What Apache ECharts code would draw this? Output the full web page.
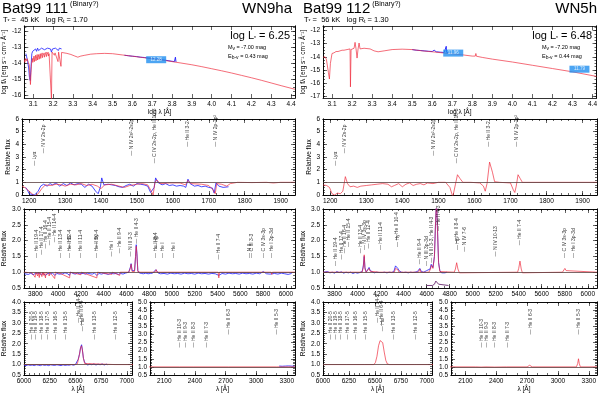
<!DOCTYPE html>
<html>
<head>
<meta charset="utf-8">
<script src="https://cdn.jsdelivr.net/npm/echarts@6/dist/echarts.min.js"></script>
<style>html,body{margin:0;background:#fff}#chart{width:600px;height:394px}</style>
</head>
<body>
<div id="chart"></div>
<script>
const FONT = 'Liberation Sans'
const RED = '#ee2638'
const BLUE = '#1c1cff'

// ---- tick labels ----
const sedTicksX = [3.1, 3.2, 3.3, 3.4, 3.5, 3.6, 3.7, 3.8, 3.9, 4.0, 4.1, 4.2, 4.3, 4.4]
const sedTicksYL = [-16, -15, -14, -13, -12]
const sedTicksYR = [-17, -16, -15, -14, -13, -12]
const uvTicksX = [1200, 1300, 1400, 1500, 1600, 1700, 1800, 1900]
const uvTicksY = [0, 1, 2, 3, 4, 5, 6]
const optTicksX = [3800, 4000, 4200, 4400, 4600, 4800, 5000, 5200, 5400, 5600, 5800, 6000]
const optTicksY = [0.5, 1.0, 1.5, 2.0, 2.5, 3.0]
const irTicksXa = [6000, 6250, 6500, 6750, 7000]
const irTicksYa = [0.5, 1.0, 1.5, 2.0, 2.5, 3.0, 3.5, 4.0]
const irTicksXb = [2100, 2400, 2700, 3000, 3300]
const irTicksYb = [0.5, 1.0, 1.5, 2.0, 2.5, 3.0, 3.5, 4.0, 4.5, 5.0]

// ---- SED (log lambda, log f) ----
const sedModelL = [[3.055,-13.78],[3.058,-13.95],[3.06,-13.7],[3.065,-13.85],[3.07,-13.72],[3.075,-13.95],[3.08,-14.1],[3.083,-14.8],[3.086,-15.35],[3.089,-14.6],[3.092,-13.95],[3.096,-13.7],[3.098,-13.95],[3.1,-13.85],[3.104,-13.55],[3.106,-13.9],[3.108,-13.75],[3.112,-13.5],[3.114,-13.85],[3.116,-13.7],[3.12,-13.45],[3.122,-13.8],[3.124,-13.65],[3.128,-13.45],[3.13,-13.75],[3.132,-13.6],[3.136,-13.4],[3.138,-13.7],[3.14,-13.55],[3.145,-13.35],[3.147,-13.65],[3.15,-13.5],[3.155,-13.35],[3.157,-13.62],[3.16,-13.48],[3.165,-13.3],[3.167,-13.58],[3.17,-13.45],[3.175,-13.3],[3.177,-13.55],[3.18,-13.4],[3.185,-13.28],[3.19,-13.35],[3.192,-16.3],[3.195,-13.3],[3.2,-13.38],[3.205,-13.28],[3.207,-13.5],[3.21,-13.35],[3.215,-13.25],[3.22,-13.3],[3.225,-13.9],[3.228,-13.3],[3.235,-13.32],[3.24,-14.2],[3.243,-13.32],[3.25,-13.3],[3.27,-13.38],[3.29,-13.45],[3.31,-13.55],[3.325,-13.62],[3.34,-13.55],[3.36,-13.5],[3.39,-13.43],[3.42,-13.4],[3.46,-13.38],[3.5,-13.4],[3.55,-13.48],[3.6,-13.56],[3.65,-13.64],[3.7,-13.72],[3.75,-13.8],[3.8,-13.9],[3.85,-14.0],[3.9,-14.1],[3.95,-14.22],[4.0,-14.35],[4.05,-14.48],[4.1,-14.62],[4.15,-14.77],[4.2,-14.92],[4.25,-15.08],[4.3,-15.25],[4.35,-15.42],[4.42,-15.65]]
const sedUvObsL = [[3.063,-13.4],[3.067,-13.6],[3.072,-13.9],[3.077,-14.3],[3.081,-14.9],[3.085,-15.1],[3.089,-14.2],[3.093,-13.4],[3.097,-13.25],[3.102,-13.2],[3.107,-13.3],[3.112,-13.1],[3.117,-13.25],[3.122,-13.05],[3.127,-13.2],[3.132,-13.1],[3.137,-13.2],[3.142,-13.05],[3.147,-13.15],[3.152,-13.0],[3.157,-13.15],[3.162,-13.1],[3.167,-13.2],[3.172,-13.05],[3.177,-13.15],[3.182,-13.0],[3.187,-13.1],[3.192,-13.3],[3.197,-13.1],[3.202,-13.0],[3.207,-13.15],[3.212,-13.05],[3.217,-13.1],[3.222,-13.0],[3.227,-13.2],[3.232,-13.05],[3.237,-13.15],[3.243,-13.1]]
const sedOptObsL = [[3.56,-13.5],[3.58,-13.53],[3.6,-13.56],[3.62,-13.58],[3.64,-13.62],[3.66,-13.64],[3.68,-13.68],[3.7,-13.7],[3.72,-13.73],[3.74,-13.76],[3.76,-13.8],[3.78,-13.84],[3.8,-13.88],[3.812,-13.9],[3.817,-13.62],[3.82,-13.92]]
const sedPhotL = [[3.72,-13.78,'12.28']]

const sedModelR = [[3.055,-14.05],[3.065,-14.0],[3.072,-14.2],[3.078,-14.1],[3.082,-15.2],[3.087,-15.7],[3.092,-14.5],[3.1,-13.75],[3.105,-13.9],[3.11,-13.7],[3.115,-13.85],[3.12,-13.6],[3.125,-13.75],[3.13,-13.6],[3.135,-13.7],[3.14,-13.55],[3.15,-13.5],[3.16,-13.5],[3.175,-13.45],[3.19,-13.4],[3.192,-16.3],[3.195,-13.45],[3.21,-13.35],[3.215,-12.9],[3.22,-13.4],[3.225,-14.1],[3.23,-13.4],[3.235,-12.95],[3.24,-13.4],[3.26,-13.35],[3.29,-13.4],[3.31,-13.55],[3.33,-13.62],[3.36,-13.55],[3.4,-13.45],[3.45,-13.42],[3.5,-13.45],[3.55,-13.55],[3.6,-13.62],[3.65,-13.7],[3.7,-13.78],[3.75,-13.85],[3.8,-13.95],[3.815,-13.95],[3.818,-13.75],[3.821,-13.96],[3.85,-14.05],[3.9,-14.18],[4.0,-14.4],[4.1,-14.65],[4.2,-14.9],[4.3,-15.15],[4.42,-15.5]]
const sedOptObsR = [[3.5,-13.45],[3.52,-13.5],[3.54,-13.52],[3.56,-13.55],[3.58,-13.58],[3.6,-13.6],[3.61,-13.5],[3.62,-13.62],[3.64,-13.65],[3.66,-13.67],[3.668,-13.68],[3.67,-13.2],[3.672,-13.66],[3.68,-13.7]]
const sedPhotR = [[3.705,-13.72,'11.96'],[4.335,-14.95,'11.79']]

// ---- UV (lambda, relative flux) ----
const uvModelL = [[1180,0.7],[1190,0.55],[1200,0.3],[1210,0.05],[1216,-0.1],[1225,0.1],[1235,0.5],[1245,0.8],[1260,0.75],[1275,0.85],[1290,0.8],[1300,0.7],[1315,0.85],[1330,0.8],[1345,0.9],[1360,0.75],[1375,0.85],[1390,0.7],[1400,0.5],[1410,0.8],[1430,0.85],[1450,0.7],[1465,0.6],[1480,0.75],[1500,0.85],[1515,0.9],[1530,0.8],[1540,0.3],[1545,0.0],[1550,1.0],[1555,1.2],[1565,0.9],[1590,0.95],[1620,0.95],[1635,0.8],[1642,1.15],[1650,0.9],[1680,0.85],[1700,0.75],[1712,0.4],[1718,0.1],[1722,0.9],[1735,0.85],[1750,0.7],[1760,0.9],[1780,1.0],[1820,0.98],[1860,1.0],[1880,0.95],[1900,1.0],[1940,1.0]]
const uvObsL = [[1190,0.6],[1195,0.4],[1200,0.1],[1205,0.0],[1215,0.0],[1225,0.3],[1232,0.7],[1240,0.85],[1250,0.7],[1258,0.9],[1265,0.8],[1275,0.95],[1285,0.7],[1295,0.9],[1305,0.75],[1315,0.95],[1325,0.8],[1335,0.9],[1345,0.85],[1355,0.6],[1365,0.85],[1375,0.7],[1385,0.3],[1392,0.1],[1398,0.6],[1402,1.35],[1408,0.8],[1420,0.85],[1430,0.8],[1440,0.75],[1450,0.65],[1460,0.6],[1470,0.75],[1480,0.85],[1490,0.7],[1500,0.9],[1510,0.85],[1520,0.8],[1530,0.7],[1538,0.2],[1542,0.05],[1548,0.6],[1552,1.35],[1558,1.0],[1570,0.8],[1580,0.9],[1590,0.75],[1600,0.8],[1610,0.7],[1620,0.75],[1630,0.7],[1636,0.6],[1642,1.25],[1648,0.9],[1660,0.7],[1670,0.75],[1680,0.65],[1690,0.7],[1700,0.6],[1710,0.55],[1715,0.15],[1720,0.95],[1728,0.7],[1740,0.6],[1755,0.65]]
const uvModelR = [[1180,0.8],[1190,0.75],[1198,0.6],[1205,0.1],[1212,0.0],[1220,0.15],[1228,0.1],[1235,0.3],[1242,1.45],[1248,0.9],[1255,0.65],[1265,0.7],[1275,0.6],[1285,0.7],[1300,0.75],[1315,0.8],[1330,0.85],[1345,0.9],[1360,0.85],[1370,0.65],[1378,0.75],[1390,0.9],[1400,0.65],[1410,0.85],[1420,0.95],[1430,0.75],[1440,0.85],[1450,0.9],[1460,0.8],[1470,0.95],[1485,0.9],[1500,1.0],[1520,1.0],[1532,0.6],[1540,-0.15],[1547,0.8],[1553,1.6],[1560,1.3],[1568,1.0],[1590,1.0],[1615,0.95],[1625,0.7],[1630,0.3],[1635,0.9],[1642,2.6],[1650,1.8],[1656,1.05],[1670,1.0],[1700,0.95],[1708,0.4],[1712,0.2],[1716,0.7],[1721,1.6],[1727,1.3],[1733,1.0],[1760,1.0],[1940,1.0]]
const uvIds = [['Lyα',1216,2.3],['N V 2s-2p',1240,3.3],['N IV 2s²-2s2p',1486,3.1],['C IV 2s-2p, He II 10-3',1550,2.5],['He II 3-2',1640,3.8],['N IV 2p-2p²',1718,3.8]]

// ---- optical ----
const optModelL = [[3700,1.0],[3770,0.98],[3798,0.84],[3805,1.0],[3820,0.88],[3825,1.0],[3835,0.83],[3840,1.0],[3858,0.86],[3862,1.0],[3870,0.9],[3875,1.0],[3889,0.82],[3895,1.0],[3923,0.88],[3927,1.0],[3970,0.8],[3976,1.0],[4026,0.95],[4030,1.0],[4101,0.82],[4107,1.0],[4200,0.92],[4205,1.0],[4340,0.82],[4346,1.0],[4471,0.93],[4476,1.0],[4541,0.9],[4545,1.0],[4620,1.0],[4634,1.12],[4641,1.25],[4650,1.02],[4670,1.02],[4680,1.5],[4686,1.82],[4692,1.55],[4700,1.02],[4720,1.0],[4850,1.0],[4861,1.08],[4870,1.0],[5000,1.0],[5405,1.0],[5411,0.82],[5417,1.0],[5795,1.0],[5801,1.06],[5810,1.0],[5870,1.0],[5876,0.93],[5882,1.0],[6080,1.0]]
const optObsL = [[3705,0.95],[3720,0.98],[3740,0.93],[3760,0.97],[3780,0.92],[3800,0.96],[3815,0.9],[3830,0.97],[3850,0.93],[3870,0.96],[3890,0.9],[3910,0.97],[3930,0.94],[3950,0.98],[3970,0.9],[3990,0.96],[4010,0.94],[4026,0.97],[4040,0.95],[4060,0.98],[4080,0.96],[4100,0.9],[4110,1.0],[4130,0.96],[4150,0.94],[4170,0.97],[4190,0.95],[4200,0.92],[4220,0.96],[4240,0.94],[4260,0.97],[4280,0.95],[4300,0.94],[4320,0.97],[4340,0.9],[4360,0.96],[4380,0.94],[4400,0.96],[4420,0.95],[4440,0.93],[4460,0.96],[4471,0.92],[4490,0.95],[4510,0.96],[4530,0.93],[4550,0.96],[4570,0.94],[4590,0.97],[4605,0.96],[4620,1.0],[4634,1.15],[4641,1.27],[4650,1.05],[4662,1.0],[4672,1.05],[4680,1.5],[4686,1.87],[4692,1.6],[4700,1.05],[4712,0.98],[4730,0.96],[4750,0.95],[4770,0.97],[4790,0.95],[4810,0.96],[4830,0.97],[4845,1.0],[4858,1.08],[4866,1.03],[4880,0.97],[4900,0.95],[4930,0.96],[4960,0.94],[4990,0.97],[5020,0.95],[5050,0.96],[5080,0.94],[5110,0.97],[5140,0.95],[5170,0.96],[5200,0.94],[5230,0.97],[5260,0.95],[5290,0.96],[5320,0.94],[5350,0.96],[5380,0.95],[5411,0.9],[5440,0.96],[5470,0.94],[5500,0.97],[5530,0.95],[5560,0.96],[5590,0.94],[5620,0.97],[5650,0.95],[5680,0.96],[5710,0.94],[5740,0.97],[5770,0.95],[5801,1.02],[5830,0.95],[5860,0.94],[5876,0.9],[5900,0.96],[5930,0.94],[5960,0.97],[5990,0.95],[6020,0.93],[6050,0.96]]
const optModelR = [[3700,1.0],[4040,1.0],[4050,1.15],[4058,1.55],[4065,1.1],[4075,1.0],[4090,1.03],[4100,1.12],[4110,1.03],[4190,1.0],[4200,1.05],[4210,1.0],[4320,1.0],[4330,1.12],[4340,1.18],[4350,1.08],[4360,1.0],[4530,1.0],[4541,1.1],[4550,1.0],[4620,1.0],[4634,1.1],[4641,1.22],[4655,1.12],[4668,1.5],[4678,2.6],[4686,3.3],[4694,2.4],[4704,1.3],[4715,1.02],[4730,1.0],[4840,1.0],[4850,1.1],[4861,1.3],[4872,1.1],[4885,0.98],[4900,1.0],[5390,1.0],[5400,1.12],[5411,1.35],[5422,1.1],[5432,0.98],[5445,1.0],[5780,1.0],[5790,1.05],[5801,1.12],[5812,1.05],[5825,1.0],[6080,1.0]]
const optObsR = [[3705,1.0],[3720,0.97],[3740,1.02],[3760,0.98],[3780,1.0],[3800,0.97],[3820,1.02],[3840,0.99],[3860,1.01],[3880,0.97],[3900,1.0],[3920,0.98],[3940,1.0],[3960,0.96],[3980,0.99],[4000,0.97],[4020,0.99],[4040,1.02],[4050,1.2],[4058,1.5],[4064,1.15],[4075,1.0],[4090,1.05],[4100,1.15],[4110,1.05],[4125,1.0],[4145,0.98],[4165,1.0],[4185,0.99],[4200,1.05],[4215,0.99],[4235,1.0],[4255,0.98],[4275,1.0],[4295,0.99],[4315,1.02],[4330,1.2],[4340,1.15],[4350,1.12],[4360,1.05],[4380,1.0],[4400,0.99],[4420,1.0],[4440,0.98],[4460,1.0],[4480,0.99],[4500,1.0],[4520,1.02],[4541,1.12],[4555,1.02],[4575,1.0],[4600,1.05],[4615,1.0],[4630,1.1],[4640,1.25],[4655,1.15],[4668,1.5],[4678,2.6],[4686,3.3],[4694,2.4],[4704,1.3],[4715,1.05],[4730,0.98],[4745,1.0],[4760,0.98],[4775,1.0]]
const optInsetR = [[4600,0.58],[4650,0.58],[4668,0.62],[4680,0.72],[4686,0.76],[4692,0.72],[4704,0.62],[4720,0.58],[4790,0.58]]
const optIdsL = [['He II 19-4',3813,1.45],['He II 17-4',3858,1.55],['He II 16-4',3887,1.75],['He II 15-4',3923,1.85],['He II 14-4',3968,1.95],['He II 13-4',4026,1.45],['He II 12-4',4100,1.45],['Hδ',4101,1.75],['He II 11-4',4200,1.45],['He II 10-4',4339,1.45],['Hγ',4340,1.8],['He I',4471,1.5],['He II 9-4',4541,1.6],['N III 3-3',4640,1.5],['He II 4-3',4686,1.9],['He II 8-4',4859,1.45],['Hβ',4861,1.75],['He I',4922,1.45],['He I',5016,1.45],['He II 7-4',5411,1.4],['N II',5680,1.45],['C III 3-3',5696,1.45],['C IV 3s-3p',5801,1.45],['He I 3p-3d',5876,1.45]]
const optIdsR = [['He II 19-4',3813,1.2],['He II 17-4',3858,1.4],['He II 16-4',3887,1.6],['He II 15-4',3923,1.8],['He II 13-4',4026,1.6],['N IV 3s-3p',4058,1.7],['He II 12-4',4100,1.75],['He II 11-4',4200,1.7],['He II 10-4',4339,2.0],['Hγ',4345,1.8],['He II 9-4',4541,1.25],['N III 3p-3d',4604,1.2],['N III 3-3, He II 4-3',4640,1.3],['He II 4-3',4700,2.3],['He II 8-4',4861,1.9],['Hβ',4866,1.7],['N IV 7-6',4930,1.65],['N IV 10-13',5200,1.5],['He II 7-4',5411,1.85],['C IV 3s-3p',5801,1.45],['He I 3p-3d',5876,1.45]]

// ---- red / near-IR ----
const irModelLa = [[6000,1.0],[6500,1.0],[6520,1.05],[6540,1.5],[6550,1.8],[6560,1.9],[6568,1.7],[6578,1.3],[6590,1.05],[6600,1.0],[6885,1.0],[6891,0.96],[6897,1.0],[7060,1.0]]
const irObsLa = [[6000,0.98],[6020,0.95],[6040,0.99],[6060,0.96],[6080,0.98],[6100,0.95],[6120,0.99],[6140,0.97],[6160,0.95],[6180,0.99],[6200,0.96],[6220,0.98],[6240,0.95],[6260,0.99],[6280,0.97],[6300,0.96],[6320,0.99],[6340,0.97],[6360,0.95],[6380,0.99],[6400,0.96],[6420,0.98],[6440,0.97],[6460,1.0],[6480,0.97],[6500,1.0],[6515,1.05],[6527,1.25],[6540,1.5],[6550,1.8],[6560,1.95],[6568,1.7],[6578,1.3],[6590,1.1],[6600,1.02],[6620,0.98],[6640,1.02],[6660,0.99],[6680,1.03],[6700,0.98],[6720,1.02],[6740,0.99],[6760,1.03],[6780,0.98],[6800,1.02],[6810,0.99]]
const irModelLb = [[1950,1.0],[2250,1.0],[2253,0.98],[2256,1.0],[2303,1.0],[2306,0.98],[2309,1.0],[2382,1.0],[2385,0.98],[2388,1.0],[2508,1.0],[2511,0.98],[2514,1.0],[2730,1.0],[2733,1.01],[2736,1.0],[3200,1.0],[3203,1.01],[3206,1.0],[3380,1.0]]
const irObsLb = [[3225,1.05],[3240,1.08],[3255,1.04],[3270,1.07],[3285,1.05],[3300,1.09],[3315,1.06],[3330,1.08],[3345,1.05],[3360,1.07],[3375,1.04]]
const irModelRa = [[6000,1.0],[6225,1.0],[6233,1.04],[6241,1.0],[6400,1.0],[6406,1.02],[6412,1.0],[6490,1.0],[6505,1.1],[6520,1.4],[6535,1.9],[6550,2.15],[6562,2.2],[6575,2.05],[6590,1.6],[6605,1.2],[6620,1.03],[6640,1.0],[6675,1.0],[6683,1.04],[6691,1.0],[6880,1.0],[6891,1.05],[6902,1.0],[7060,1.0]]
const irModelRb = [[1950,1.0],[2200,1.0],[2253,0.99],[2300,1.0],[2385,0.99],[2500,1.0],[2700,1.0],[2715,1.05],[2725,1.1],[2735,1.05],[2750,1.0],[3180,1.0],[3192,1.2],[3200,1.5],[3208,1.2],[3218,1.0],[3380,1.0]]
const irIdsA = [['He II 20-5',6074,2.2],['He II 19-5',6118,2.2],['He II 18-5',6170,2.2],['He II 17-5',6233,2.2],['He II 16-5',6311,2.2],['He II 15-5',6406,2.2],['He II 14-5',6527,3.0],['He II 6-4',6565,2.85],['Hα',6575,2.6],['He II 13-5',6683,2.2],['He II 12-5',6891,2.2]]
const irIdsB = [['He II 10-3',2253,2.2],['He II 9-3',2306,2.2],['He II 8-3',2385,2.2],['He II 7-3',2511,2.2],['He II 6-3',2733,3.0],['He II 5-3',3203,3.0]]

// ---- builder ----
const grids = [], xAxes = [], yAxes = [], series = []
const f0 = v => String(v), f1 = v => v.toFixed(1)

function steps(a, b, s) {
    const out = []
    for (let v = Math.ceil(a / s) * s; v <= b + 1e-9; v += s) out.push(+v.toFixed(4))
    return out
}

function axis(g, pos, range, vals, len, showLabel, fmt, name, nameGap) {
    return {
        type: 'value', gridIndex: g, position: pos, min: range[0], max: range[1],
        axisLine: {show: true, onZero: false, lineStyle: {color: '#000', width: 0.8}},
        axisTick: {show: true, inside: true, length: len, customValues: vals, lineStyle: {color: '#000', width: 0.6}},
        axisLabel: {show: showLabel, customValues: vals, formatter: fmt, fontSize: 6.5, fontFamily: FONT, color: '#000', margin: 3},
        splitLine: {show: false},
        name: name || '', nameLocation: 'middle', nameGap: nameGap || 12,
        nameTextStyle: {fontSize: 6.5, fontFamily: FONT, color: '#000'}
    }
}

function panel(box, xr, yr, xt, yt, xf, yf, xStep, yStep, xName, yName, yGap) {
    const g = grids.length
    grids.push({left: box[0], top: box[1], width: box[2] - box[0], height: box[3] - box[1]})
    const p = {x: xAxes.length, y: yAxes.length}
    xAxes.push(axis(g, 'bottom', xr, xt, 4, true, xf, xName, 11))
    xAxes.push(axis(g, 'top', xr, xt, 4, false, xf))
    yAxes.push(axis(g, 'left', yr, yt, 4, true, yf, yName, yGap))
    yAxes.push(axis(g, 'right', yr, yt, 4, false, yf))
    if (xStep) {
        const m = steps(xr[0], xr[1], xStep)
        xAxes.push(axis(g, 'bottom', xr, m, 2, false, xf))
        xAxes.push(axis(g, 'top', xr, m, 2, false, xf))
    }
    if (yStep) {
        const m = steps(yr[0], yr[1], yStep)
        yAxes.push(axis(g, 'left', yr, m, 2, false, yf))
        yAxes.push(axis(g, 'right', yr, m, 2, false, yf))
    }
    return p
}

function line(p, data, color, width, opacity, z, unity) {
    const s = {
        type: 'line', xAxisIndex: p.x, yAxisIndex: p.y, data: data, symbol: 'none', silent: true,
        lineStyle: {color: color, width: width, opacity: opacity}, z: z
    }
    if (unity) {
        s.markLine = {silent: true, symbol: 'none', label: {show: false}, animation: false,
            lineStyle: {color: '#5a4040', width: 0.8, type: 'solid'}, data: [{yAxis: 1}]}
    }
    series.push(s)
}

function ids(p, list) {
    series.push({
        type: 'scatter', xAxisIndex: p.x, yAxisIndex: p.y, symbolSize: 0.1, silent: true, z: 5,
        itemStyle: {color: 'rgba(0,0,0,0)'},
        data: list.map(d => ({name: d[0], value: [d[1], d[2]]})),
        label: {show: true, position: 'inside', rotate: 90, align: 'left', verticalAlign: 'middle',
            formatter: '— {b}', fontSize: 5, fontFamily: FONT, color: '#000'}
    })
}

function phot(p, list) {
    series.push({
        type: 'scatter', xAxisIndex: p.x, yAxisIndex: p.y, symbol: 'rect', symbolSize: [20, 7], silent: true, z: 6,
        itemStyle: {color: '#1f8ff0'},
        data: list.map(d => ({name: d[2], value: [d[0], d[1]]})),
        label: {show: true, position: 'inside', formatter: '{b}', fontSize: 4.5, fontFamily: FONT, color: '#fff'}
    })
}

const sedName = 'log fλ [erg s⁻¹ cm⁻² Å⁻¹]'
const relName = 'Relative flux'
const cols = [
    {l: 22, r: 295, a: 132, b: 150},
    {l: 323, r: 597, a: 432, b: 451}
]

// left star
let c = cols[0]
let p = panel([c.l, 26, c.r, 98], [3.055, 4.42], [-16.2, -11.65], sedTicksX, sedTicksYL, f1, f0, 0, 0.25, 'log λ [Å]', sedName, 12)
line(p, sedUvObsL, BLUE, 0.8, 1, 2)
line(p, sedOptObsL, BLUE, 0.9, 1, 2)
line(p, sedModelL, RED, 0.8, 0.85, 3)
phot(p, sedPhotL)

p = panel([c.l, 119, c.r, 195], [1180, 1940], [0, 6], uvTicksX, uvTicksY, f0, f0, 20, 0.2, '', relName, 10)
line(p, uvObsL, BLUE, 0.8, 1, 2)
line(p, uvModelL, RED, 0.8, 0.85, 3, true)
ids(p, uvIds)

p = panel([c.l, 209, c.r, 288], [3700, 6080], [0.5, 3.0], optTicksX, optTicksY, f0, f1, 50, 0.1, '', relName, 14)
line(p, optObsL, BLUE, 0.8, 1, 2)
line(p, optModelL, RED, 0.8, 0.85, 3, true)
ids(p, optIdsL)

p = panel([c.l, 302, c.a, 378], [6000, 7050], [0.5, 4.0], irTicksXa, irTicksYa, f0, f1, 50, 0.1, 'λ [Å]', relName, 14)
line(p, irObsLa, BLUE, 0.8, 1, 2)
line(p, irModelLa, RED, 0.8, 0.85, 3, true)
ids(p, irIdsA)

p = panel([c.b, 302, c.r, 378], [1960, 3380], [0.5, 5.0], irTicksXb, irTicksYb, f0, f1, 100, 0.1, 'λ [Å]', '', 14)
line(p, irObsLb, BLUE, 0.8, 1, 2)
line(p, irModelLb, RED, 0.8, 0.85, 3, true)
ids(p, irIdsB)

// right star
c = cols[1]
p = panel([c.l, 26, c.r, 98], [3.055, 4.42], [-17.15, -11.65], sedTicksX, sedTicksYR, f1, f0, 0, 0.25, 'log λ [Å]', sedName, 12)
line(p, sedOptObsR, BLUE, 0.9, 1, 2)
line(p, sedModelR, RED, 0.8, 0.85, 3)
phot(p, sedPhotR)

p = panel([c.l, 119, c.r, 195], [1180, 1940], [0, 6], uvTicksX, uvTicksY, f0, f0, 20, 0.2, '', relName, 10)
line(p, uvModelR, RED, 0.8, 0.85, 3, true)
ids(p, uvIds)

p = panel([c.l, 209, c.r, 288], [3700, 6080], [0.5, 3.0], optTicksX, optTicksY, f0, f1, 50, 0.1, '', relName, 14)
line(p, optObsR, BLUE, 0.8, 1, 2)
line(p, optModelR, RED, 0.8, 0.85, 3, true)
line(p, optInsetR, '#6a2a70', 0.9, 1, 4)
ids(p, optIdsR)

p = panel([c.l, 302, c.a, 378], [6000, 7050], [0.5, 4.0], irTicksXa, irTicksYa, f0, f1, 50, 0.1, 'λ [Å]', relName, 14)
line(p, irModelRa, RED, 0.8, 0.85, 3, true)
ids(p, irIdsA)

p = panel([c.b, 302, c.r, 378], [1960, 3380], [0.5, 5.0], irTicksXb, irTicksYb, f0, f1, 100, 0.1, 'λ [Å]', '', 14)
line(p, irModelRb, RED, 0.8, 0.85, 3, true)
ids(p, irIdsB)

// ---- header texts ----
const sub = {s: {fontSize: 5, fontFamily: FONT, color: '#000', verticalAlign: 'bottom', padding: [3, 0, 0, 0]}}
function hdr(left, top, text, size, rich, right) {
    const t = {top: top, text: text, padding: 0, textStyle: {fontSize: size, fontFamily: FONT, fontWeight: 'normal', color: '#000', rich: rich || sub}}
    if (right !== undefined) t.right = right; else t.left = left
    return t
}
const big = {b: {fontSize: 7, fontFamily: FONT, color: '#000', verticalAlign: 'top', padding: [0, 0, 6, 0]}}
const titles = [
    hdr(2, 1, 'Bat99 111{b| (Binary?)}', 15, big),
    hdr(0, 1, 'WN9ha', 15, null, 308),
    hdr(3, 16, 'T{s|*} =  45 kK   log R{s|t} = 1.70', 7.5),
    hdr(0, 30, 'log L{s|*} = 6.25', 11, null, 310),
    hdr(228, 43, 'M{s|v} = -7.00 mag', 5.5),
    hdr(228, 52, 'E{s|b-v} = 0.43 mag', 5.5),
    hdr(303, 1, 'Bat99 112{b| (Binary?)}', 15, big),
    hdr(0, 1, 'WN5h', 15, null, 3),
    hdr(304, 16, 'T{s|*} =  56 kK   log R{s|t} = 1.30', 7.5),
    hdr(0, 30, 'log L{s|*} = 6.48', 11, null, 8),
    hdr(542, 43, 'M{s|v} = -7.20 mag', 5.5),
    hdr(542, 52, 'E{s|b-v} = 0.44 mag', 5.5)
]

const chart = echarts.init(document.getElementById('chart'))
chart.setOption({
    animation: false,
    backgroundColor: '#fff',
    title: titles,
    grid: grids,
    xAxis: xAxes,
    yAxis: yAxes,
    series: series
})
</script>
</body>
</html>
